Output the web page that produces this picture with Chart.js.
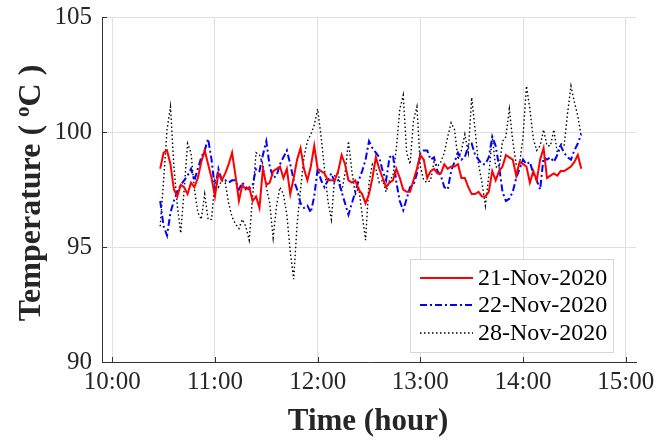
<!DOCTYPE html>
<html>
<head>
<meta charset="utf-8">
<title>Temperature</title>
<script src="https://cdn.jsdelivr.net/npm/chart.js@4.4.1/dist/chart.umd.min.js"></script>
<style>
  html, body { margin: 0; padding: 0; background: #fff; }
  #chart { display: block; }
</style>
</head>
<body>
<canvas id="chart" width="656" height="441"></canvas>
<script>
// readings every 2 minutes, first one at 10:28 (minutes since midnight)
const startMinute = 628;
const stepMinute = 2;

const seriesLabels = ['21-Nov-2020', '22-Nov-2020', '28-Nov-2020'];

const nov21 = [
  98.4, 99.1, 99.2, 98.6, 97.5, 97.2, 97.7, 97.6, 97.3, 97.8,
  97.6, 98.0, 98.7, 99.2, 98.6, 98.0, 97.2, 98.2, 97.9, 98.2,
  98.6, 99.1, 98.1, 97.0, 97.7, 97.5, 97.6, 97.0, 97.2, 96.7,
  98.4, 97.7, 97.8, 98.3, 98.4, 98.5, 98.0, 98.4, 97.3, 98.0,
  98.8, 99.3, 98.4, 97.9, 98.5, 99.4, 98.4, 98.3, 98.2, 97.9,
  97.9, 97.9, 98.3, 99.0, 98.6, 97.9, 97.8, 97.9, 97.5, 97.3,
  96.9, 97.3, 98.0, 98.9, 98.4, 98.0, 97.6, 97.8, 97.9, 98.4,
  98.0, 97.5, 97.4, 97.4, 97.9, 98.4, 99.0, 98.8, 98.0, 98.3,
  98.4, 98.2, 98.2, 98.6, 98.4, 98.5, 98.5, 98.6, 98.0, 98.0,
  97.6, 97.3, 97.3, 97.4, 97.2, 97.2, 97.4, 98.3, 97.9, 98.3,
  98.5, 99.0, 98.9, 98.8, 98.1, 98.7, 98.6, 98.5, 97.8, 98.3,
  97.9, 98.8, 99.3, 98.0, 98.1, 98.2, 98.1, 98.3, 98.3, 98.4,
  98.5, 98.7, 99.0, 98.4
];

const nov22 = [
  97.0, 95.9, 95.5, 96.5, 97.0, 97.4, 97.7, 97.9, 98.1, 98.4,
  97.9, 98.4, 98.9, 99.2, 99.7, 98.8, 97.5, 98.4, 97.9, 97.9,
  97.8, 97.9, 97.9, 97.5, 97.8, 97.6, 97.5, 97.7, 98.4, 98.3,
  99.0, 99.6, 98.5, 98.0, 98.1, 98.6, 98.9, 99.2, 98.6, 97.9,
  97.5, 96.9, 96.7, 96.8, 96.5, 97.2, 98.4, 97.9, 97.6, 97.9,
  98.2, 97.8, 97.9, 97.4, 96.9, 96.4, 96.9, 97.4, 97.9, 98.3,
  98.8, 99.6, 99.3, 99.1, 98.9, 98.3, 97.9, 98.9, 99.0, 97.8,
  97.0, 96.6, 97.1, 97.6, 97.7, 98.2, 99.1, 99.2, 99.2, 98.8,
  98.9, 98.3, 98.1, 97.6, 97.5, 98.3, 98.7, 99.1, 98.8, 98.9,
  99.4, 99.5, 99.0, 98.8, 98.6, 98.6, 98.9, 99.8, 99.4, 98.5,
  97.4, 97.0, 97.1, 97.4, 98.0, 98.4, 98.8, 98.6, 98.7, 98.2,
  97.9, 97.5, 98.9, 98.8, 98.9, 98.7, 99.0, 99.4, 99.1, 98.9,
  98.8, 99.2, 99.5, 99.9
];

const nov28 = [
  95.9, 97.9, 100.1, 101.1, 98.5, 96.8, 95.6, 97.5, 99.5, 99.1,
  97.5, 96.5, 96.2, 97.3, 96.2, 96.2, 97.9, 97.6, 97.9, 97.8,
  96.9, 96.3, 96.0, 95.8, 96.2, 95.9, 95.3, 97.2, 99.1, 99.0,
  98.6, 97.6, 96.9, 95.4, 96.8, 97.6, 97.3, 96.4, 94.8, 93.6,
  96.0, 97.5, 98.9, 99.6, 99.9, 100.3, 101.0, 99.8, 98.4, 97.0,
  96.2, 98.1, 98.2, 97.4, 98.2, 99.6, 98.3, 97.3, 97.6, 96.4,
  95.3, 97.8, 98.6, 98.4, 97.8, 97.9, 97.4, 97.9, 98.1, 99.3,
  101.0, 101.6, 99.1, 98.6, 100.5, 101.1, 98.5, 97.9, 97.8, 97.9,
  98.7, 98.5, 98.7, 99.1, 99.8, 100.4, 100.1, 98.8, 99.2, 99.9,
  99.1, 101.5, 100.1, 98.6, 97.8, 96.8, 98.1, 99.8, 98.5, 98.4,
  99.6, 99.8, 101.0, 99.6, 98.6, 98.6, 99.8, 102.0, 101.0, 99.7,
  99.2, 99.4, 100.1, 99.4, 99.4, 100.1, 99.1, 99.5, 99.4, 100.8,
  102.0, 101.3, 100.7, 99.8
];

const xTickValues = [600, 660, 720, 780, 840, 900];
const xTickLabels = ['10:00', '11:00', '12:00', '13:00', '14:00', '15:00'];
const yTickValues = [90, 95, 100, 105];

const serif = '"Liberation Serif", "Times New Roman", serif';
Chart.defaults.font.family = serif;

function toPoints(values) {
  return values.map((v, i) => ({ x: startMinute + i * stepMinute, y: v }));
}

// inward tick marks, axis titles and the boxed legend (MATLAB look)
const overlay = {
  id: 'overlay',
  afterDraw(chart) {
    const { ctx, chartArea: a, scales: { x, y } } = chart;
    ctx.save();

    ctx.strokeStyle = '#333';
    ctx.lineWidth = 1;
    ctx.beginPath();
    xTickValues.forEach(v => {
      const px = Math.round(x.getPixelForValue(v)) + 0.5;
      ctx.moveTo(px, a.bottom);
      ctx.lineTo(px, a.bottom - 5);
    });
    yTickValues.forEach(v => {
      const py = Math.round(y.getPixelForValue(v)) + 0.5;
      ctx.moveTo(a.left, py);
      ctx.lineTo(a.left + 5, py);
    });
    ctx.stroke();

    ctx.fillStyle = '#262626';
    ctx.textBaseline = 'alphabetic';

    // x title
    ctx.font = 'bold 31px ' + serif;
    ctx.textAlign = 'center';
    ctx.fillText('Time (hour)', 368, 430);

    // y title with superscript o
    const parts = [
      { text: 'Temperature ( ', font: 'bold 32px ' + serif, dy: 0 },
      { text: 'o', font: 'bold 21px ' + serif, dy: -11 },
      { text: 'C )', font: 'bold 32px ' + serif, dy: 0 }
    ];
    let total = 0;
    parts.forEach(p => { ctx.font = p.font; p.w = ctx.measureText(p.text).width; total += p.w; });
    ctx.translate(40, 193);
    ctx.rotate(-Math.PI / 2);
    ctx.textAlign = 'left';
    let cx = -total / 2;
    parts.forEach(p => {
      ctx.font = p.font;
      ctx.fillText(p.text, cx, p.dy);
      cx += p.w;
    });
    ctx.setTransform(1, 0, 0, 1, 0, 0);

    // legend
    ctx.fillStyle = '#fff';
    ctx.fillRect(410.5, 259.5, 203, 93);
    ctx.strokeStyle = '#d6d6d6';
    ctx.lineWidth = 1;
    ctx.strokeRect(410.5, 259.5, 203, 93);
    const rows = [278, 305, 333];
    ctx.font = '24px ' + serif;
    ctx.textBaseline = 'middle';
    chart.data.datasets.forEach((ds, i) => {
      ctx.strokeStyle = ds.borderColor;
      ctx.lineWidth = ds.borderWidth;
      ctx.setLineDash(ds.borderDash || []);
      ctx.beginPath();
      ctx.moveTo(420, rows[i]);
      ctx.lineTo(473, rows[i]);
      ctx.stroke();
      ctx.setLineDash([]);
      ctx.fillStyle = '#000';
      ctx.fillText(ds.label, 478, rows[i] + 1);
    });

    ctx.restore();
  }
};

new Chart(document.getElementById('chart'), {
  type: 'line',
  data: {
    datasets: [
      { label: seriesLabels[0], data: toPoints(nov21), borderColor: '#ff0000', borderWidth: 2, borderDash: [] },
      { label: seriesLabels[1], data: toPoints(nov22), borderColor: '#0000ff', borderWidth: 2, borderDash: [7, 3, 2, 3] },
      { label: seriesLabels[2], data: toPoints(nov28), borderColor: '#000000', borderWidth: 1.4, borderDash: [1.5, 2.5] }
    ]
  },
  options: {
    responsive: false,
    animation: false,
    events: [],
    layout: { padding: { top: 17, right: 20, left: 0, bottom: 0 } },
    elements: { point: { radius: 0 }, line: { tension: 0 } },
    plugins: { legend: { display: false }, tooltip: { enabled: false } },
    scales: {
      x: {
        type: 'linear',
        min: 594,
        max: 906,
        afterBuildTicks: s => { s.ticks = xTickValues.map(v => ({ value: v })); },
        afterFit: s => { s.height = 79; s.paddingLeft = 0; s.paddingRight = 0; },
        grid: { color: '#e0e0e0', drawTicks: false },
        border: { color: '#333', width: 1 },
        ticks: {
          font: { size: 25 },
          color: '#262626',
          padding: 5,
          maxRotation: 0,
          autoSkip: false,
          callback: v => xTickLabels[xTickValues.indexOf(v)] ?? ''
        }
      },
      y: {
        min: 90,
        max: 105,
        afterBuildTicks: s => { s.ticks = yTickValues.map(v => ({ value: v })); },
        afterFit: s => { s.width = 102; s.paddingTop = 0; s.paddingBottom = 0; },
        grid: { color: '#e0e0e0', drawTicks: false },
        border: { color: '#333', width: 1 },
        ticks: { font: { size: 25 }, color: '#262626', padding: 10 }
      }
    }
  },
  plugins: [overlay]
});
</script>
</body>
</html>
